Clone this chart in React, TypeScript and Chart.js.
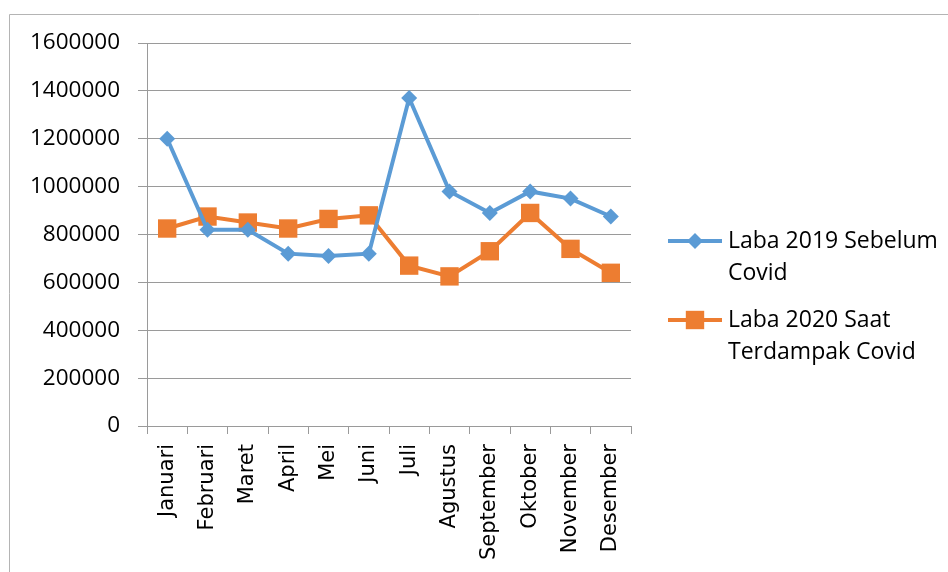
import React, { useEffect, useRef } from "react";
import { Chart, registerables } from "chart.js";

Chart.register(...registerables);

const months = [
  "Januari", "Februari", "Maret", "April", "Mei", "Juni",
  "Juli", "Agustus", "September", "Oktober", "November", "Desember",
];
const laba2019 = [1200000, 820000, 820000, 720000, 710000, 720000, 1370000, 980000, 890000, 980000, 950000, 875000];
const laba2020 = [825000, 875000, 850000, 825000, 865000, 880000, 670000, 625000, 730000, 890000, 740000, 640000];
const seriesNames = ["Laba 2019 Sebelum Covid", "Laba 2020 Saat Terdampak Covid"];
const yMin = 0;
const yMax = 1600000;
const yStep = 200000;

const BLUE = "#5B9BD5";
const ORANGE = "#ED7D31";
const GRID = "#9a9a9a";

function wrap(ctx: CanvasRenderingContext2D, text: string, maxW: number): string[] {
  const words = text.split(" ");
  const lines: string[] = [];
  let cur = "";
  for (const w of words) {
    const test = cur ? cur + " " + w : w;
    if (ctx.measureText(test).width > maxW && cur) {
      lines.push(cur);
      cur = w;
    } else cur = test;
  }
  if (cur) lines.push(cur);
  return lines;
}

const framePlugin = {
  id: "frame",
  beforeDraw(chart: any) {
    const ctx = chart.ctx;
    ctx.save();
    ctx.fillStyle = "#fff";
    ctx.fillRect(0, 0, chart.width, chart.height);
    ctx.strokeStyle = "#b4b4b4";
    ctx.lineWidth = 1;
    ctx.beginPath();
    ctx.moveTo(9.5, chart.height + 5);
    ctx.lineTo(9.5, 14.5);
    ctx.lineTo(chart.width + 5, 14.5);
    ctx.stroke();
    ctx.restore();
  },
};

const legendPlugin = {
  id: "customLegend",
  afterDraw(chart: any) {
    const ctx = chart.ctx as CanvasRenderingContext2D;
    ctx.save();
    ctx.font = "23px 'Open Sans'";
    ctx.textBaseline = "middle";
    ctx.textAlign = "left";
    const lineX0 = 668;
    const lineX1 = 722;
    const textX = 728;
    const lineH = 32;
    let y = 241;
    chart.data.datasets.forEach((ds: any) => {
      const mx = (lineX0 + lineX1) / 2;
      ctx.strokeStyle = ds.borderColor;
      ctx.lineWidth = ds.borderWidth;
      ctx.beginPath();
      ctx.moveTo(lineX0, y);
      ctx.lineTo(lineX1, y);
      ctx.stroke();
      ctx.fillStyle = ds.borderColor;
      const r = ds.pointRadius;
      ctx.beginPath();
      if (ds.pointStyle === "rect") {
        const s = Math.SQRT1_2 * r;
        ctx.rect(mx - s, y - s, 2 * s, 2 * s);
      } else {
        ctx.moveTo(mx - r, y);
        ctx.lineTo(mx, y - r);
        ctx.lineTo(mx + r, y);
        ctx.lineTo(mx, y + r);
        ctx.closePath();
      }
      ctx.fill();
      ctx.fillStyle = "#000";
      const lines = wrap(ctx, ds.label, 948 - textX - 2);
      lines.forEach((ln, i) => ctx.fillText(ln, textX, y + i * lineH));
      y += lines.length * lineH + 15;
    });
    ctx.restore();
  },
};

export default function App() {
  const ref = useRef<HTMLCanvasElement | null>(null);
  useEffect(() => {
    if (!ref.current) return;
    const chart = new Chart(ref.current, {
      type: "line",
      data: {
        labels: months,
        datasets: [
          {
            label: seriesNames[0],
            data: laba2019,
            borderColor: BLUE,
            backgroundColor: BLUE,
            borderWidth: 4,
            pointStyle: "rectRot",
            pointRadius: 8,
            pointHoverRadius: 8,
            pointBorderWidth: 0,
            tension: 0,
          },
          {
            label: seriesNames[1],
            data: laba2020,
            borderColor: ORANGE,
            backgroundColor: ORANGE,
            borderWidth: 4,
            pointStyle: "rect",
            pointRadius: 13,
            pointHoverRadius: 13,
            pointBorderWidth: 0,
            tension: 0,
          },
        ],
      },
      options: {
        animation: false,
        responsive: false,
        devicePixelRatio: 1,
        layout: { padding: { left: 0, right: 317, top: 43, bottom: 0 } },
        plugins: {
          legend: { display: false },
          tooltip: { enabled: false },
        },
        scales: {
          x: {
            offset: true,
            grid: {
              offset: true,
              drawOnChartArea: false,
              drawTicks: true,
              tickLength: 8,
              color: GRID,
            },
            border: { color: GRID, width: 1 },
            ticks: {
              minRotation: 90,
              maxRotation: 90,
              autoSkip: false,
              padding: 10,
              color: "#000",
              font: { family: "'DejaVu Sans'", size: 21 },
            },
            afterFit(scale: any) {
              scale.height = 146;
            },
          },
          y: {
            min: yMin,
            max: yMax,
            grid: { color: GRID, tickLength: 9, drawTicks: true },
            border: { color: GRID, width: 1 },
            ticks: {
              stepSize: yStep,
              padding: 18,
              color: "#000",
              font: { family: "'Open Sans'", size: 22.5 },
              callback: (v: any) => String(v),
            },
            afterFit(scale: any) {
              scale.width = 147;
            },
          },
        },
      },
      plugins: [framePlugin, legendPlugin],
    });
    return () => chart.destroy();
  }, []);
  return (
    <div style={{ position: "fixed", left: 0, top: 0, width: 948, height: 572, background: "#fff" }}>
      <canvas ref={ref} width={948} height={572} style={{ width: 948, height: 572, display: "block" }} />
    </div>
  );
}
